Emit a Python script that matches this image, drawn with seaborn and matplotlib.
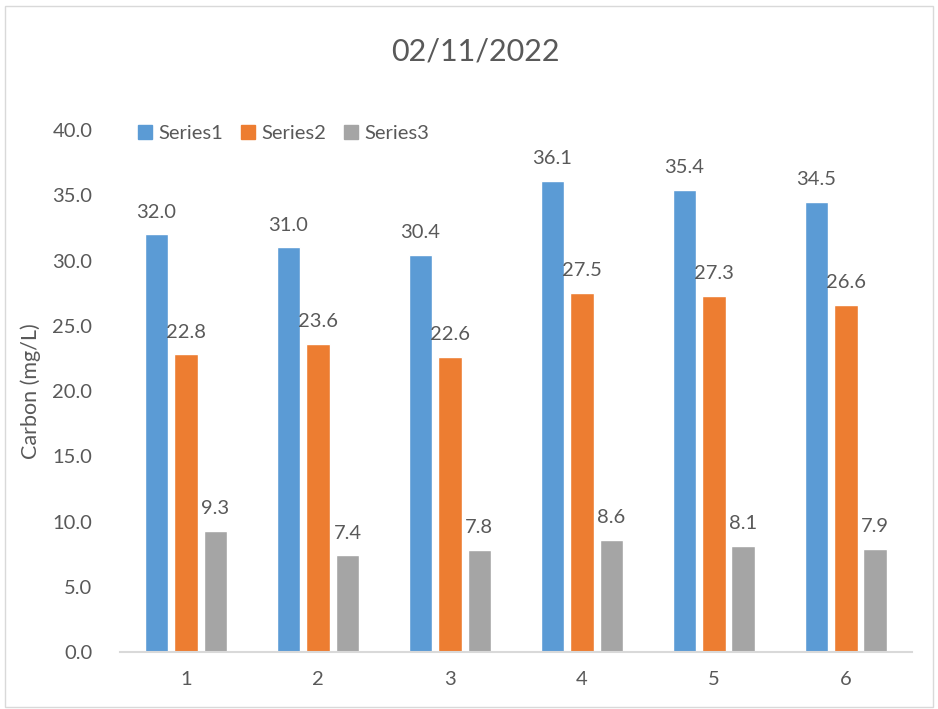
import pandas as pd
import matplotlib.pyplot as plt
import matplotlib.patches as mpatches
import seaborn as sns

# data
groups = ["1", "2", "3", "4", "5", "6"]
series1 = [32.0, 31.0, 30.4, 36.1, 35.4, 34.5]
series2 = [22.8, 23.6, 22.6, 27.5, 27.3, 26.6]
series3 = [9.3, 7.4, 7.8, 8.6, 8.1, 7.9]
series_names = ["Series1", "Series2", "Series3"]
colors = ["#5B9BD5", "#ED7D31", "#A5A5A5"]

df = pd.DataFrame({
    "group": groups * 3,
    "series": [s for s in series_names for _ in groups],
    "value": series1 + series2 + series3,
})

sns.set_style("white")
plt.rcParams["font.family"] = ["Lato", "DejaVu Sans"]
text_col = "#595959"

fig = plt.figure(figsize=(9.38, 7.09), dpi=100)
ax = fig.add_axes([0.128, 0.0804, 0.844, 0.7362])

sns.barplot(data=df, x="group", y="value", hue="series", order=groups,
            hue_order=series_names, palette=colors, width=0.67, gap=0.2,
            saturation=1, ax=ax, legend=True)

for cont in ax.containers:
    ax.bar_label(cont, fmt="%.1f", padding=10, fontsize=14.5, color=text_col)

ax.set_ylim(0, 40)
ax.set_yticks([0, 5, 10, 15, 20, 25, 30, 35, 40])
ax.set_yticklabels([f"{v:.1f}" for v in ax.get_yticks()])
ax.tick_params(axis="both", length=0, labelsize=14.5, colors=text_col)
ax.tick_params(axis="y", pad=20)
ax.tick_params(axis="x", pad=14)
ax.set_xlabel("")
ax.set_ylabel("Carbon (mg/L)", fontsize=15.5, color=text_col, labelpad=8)

for s in ["top", "right", "left"]:
    ax.spines[s].set_visible(False)
ax.spines["bottom"].set_color("#D9D9D9")
ax.spines["bottom"].set_linewidth(1.5)

handles = [mpatches.Patch(color=c) for c in colors]
ax.legend(handles, series_names, loc="upper left", bbox_to_anchor=(0.0, 1.045),
          ncol=3, frameon=False, fontsize=14.5, handlelength=0.7, handleheight=0.7,
          handletextpad=0.3, columnspacing=0.9, labelcolor=text_col)

fig.text(0.507, 0.928, "02/11/2022", ha="center", va="center", fontsize=22,
         color=text_col)

# light grey chart border
fig.patches.append(mpatches.Rectangle((0.005, 0.003), 0.99, 0.988,
                                      transform=fig.transFigure, fill=False,
                                      edgecolor="#D9D9D9", linewidth=1))

fig.savefig("out.png", dpi=100)
